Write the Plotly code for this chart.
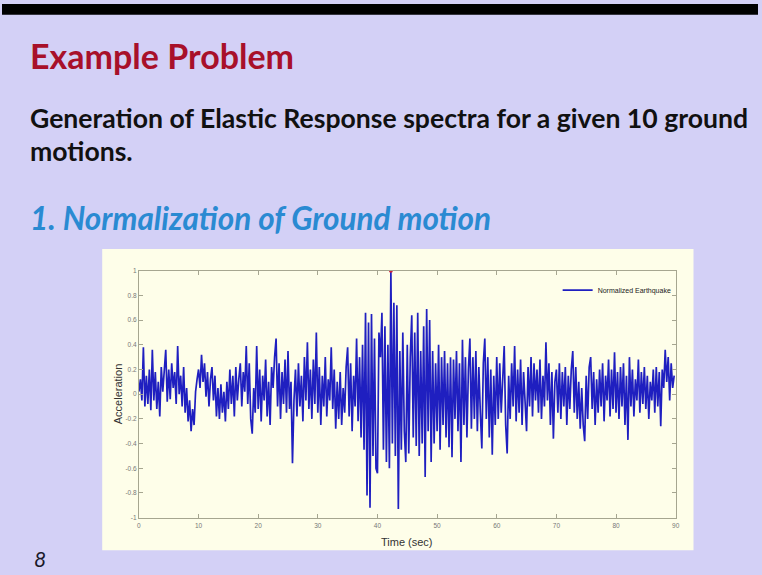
import numpy as np
import plotly.graph_objects as go

# ---------------- data ----------------
DT = 0.25  # sample spacing of the hand-read trace, seconds
accel = [
    0.02, 0.12, -0.05, 0.38, -0.10, 0.15, -0.08, 0.20, -0.13, 0.36,
    -0.05, 0.18, -0.12, 0.10, -0.18, 0.22, 0.02, 0.16, 0.36, -0.06,
    0.20, -0.04, 0.25, 0.05, 0.18, -0.08, 0.39, 0.00, 0.15, -0.10,
    0.22, -0.15, 0.05, -0.22, -0.05, -0.30, -0.12, -0.25, 0.02, 0.12,
    0.20, 0.05, 0.32, 0.10, 0.25, -0.02, 0.18, -0.10, 0.12, 0.22,
    -0.05, 0.15, -0.18, 0.05, -0.20, 0.08, -0.15, 0.02, -0.22, 0.10,
    -0.12, 0.20, -0.08, 0.15, -0.18, 0.22, -0.05, 0.12, 0.25, -0.10,
    0.18, 0.02, 0.39, -0.08, 0.25, -0.20, -0.32, 0.05, -0.15, 0.39,
    -0.12, 0.20, -0.22, 0.15, -0.05, 0.28, -0.18, 0.10, -0.25, 0.22,
    0.05, 0.30, 0.45, -0.10, 0.25, -0.20, 0.18, -0.08, 0.28, -0.15,
    0.35, -0.12, 0.10, -0.56, -0.05, 0.20, -0.18, 0.25, -0.10, 0.15,
    -0.22, 0.30, -0.05, 0.42, -0.12, 0.20, -0.20, 0.28, -0.08, 0.50,
    -0.15, 0.22, -0.25, 0.15, -0.10, 0.30, -0.18, 0.12, -0.05, 0.38,
    -0.12, 0.20, -0.28, 0.10, -0.20, 0.18, -0.25, 0.05, -0.15, 0.22,
    0.38, -0.18, 0.25, -0.30, 0.15, -0.10, 0.45, -0.22, 0.30, -0.35,
    0.40, -0.45, 0.66, -0.82, 0.58, -0.92, 0.65, -0.50, 0.45, -0.60,
    -0.64, 0.50, 0.30, 0.66, -0.45, 0.55, -0.55, 0.40, -0.60, 1.00,
    -0.40, 0.74, -0.50, 0.72, -0.93, 0.35, -0.45, 0.50, -0.30, -0.55,
    0.40, -0.48, 0.30, 0.64, -0.35, 0.50, -0.42, 0.66, -0.50, 0.35,
    -0.40, 0.55, -0.67, 0.69, -0.30, 0.60, -0.55, 0.35, -0.40, 0.25,
    -0.30, 0.40, -0.45, 0.30, -0.25, 0.35, -0.35, 0.25, -0.43, 0.30,
    -0.51, 0.28, -0.20, 0.35, -0.30, 0.25, -0.55, 0.44, -0.25, 0.30,
    -0.35, 0.20, 0.45, -0.28, 0.30, -0.20, 0.35, -0.30, 0.22, -0.15,
    -0.44, 0.25, 0.45, -0.20, 0.30, -0.35, 0.20, -0.49, 0.15, -0.25,
    0.30, -0.20, 0.25, -0.15, 0.20, 0.39, -0.25, -0.48, 0.15, -0.20,
    0.25, -0.10, 0.39, -0.22, 0.20, -0.15, 0.28, -0.25, 0.18, -0.12,
    -0.30, 0.22, -0.10, 0.30, -0.18, 0.25, -0.05, 0.20, -0.15, 0.28,
    -0.20, 0.15, -0.10, 0.42, -0.05, 0.25, -0.25, 0.18, -0.36, 0.10,
    0.20, -0.15, 0.25, -0.20, 0.18, -0.10, 0.22, -0.25, 0.15, -0.12,
    0.20, 0.35, -0.15, 0.22, -0.20, 0.10, -0.28, 0.05, -0.25, -0.38,
    0.15, -0.20, 0.22, 0.30, -0.12, 0.18, -0.25, 0.12, -0.15, 0.20,
    -0.10, 0.25, -0.22, 0.15, -0.05, 0.28, -0.18, 0.20, -0.12, 0.34,
    -0.15, 0.18, -0.20, 0.22, -0.10, 0.25, -0.25, 0.15, -0.37, 0.30,
    -0.10, 0.20, -0.18, 0.12, -0.05, 0.28, -0.15, 0.18, -0.08, 0.22,
    -0.12, 0.15, -0.20, 0.10, -0.05, 0.20, -0.15, 0.22, -0.10, 0.18,
    -0.26, 0.20, 0.05, 0.36, 0.10, 0.30, -0.05, 0.25, 0.05, 0.15,
]
x_ticks = [0, 10, 20, 30, 40, 50, 60, 70, 80, 90]
y_ticks = [-1, -0.8, -0.6, -0.4, -0.2, 0, 0.2, 0.4, 0.6, 0.8, 1]
y_tick_labels = ["-1", "-0.8", "-0.6", "-0.4", "-0.2", "0", "0.2", "0.4", "0.6", "0.8", "1"]
series_name = "Normalized Earthquake"

time = np.arange(len(accel)) * DT
peak_i = int(np.argmax(accel))

# ---------------- layout helpers ----------------
W, H = 762, 575
def PX(x):
    return x / W
def PY(y):
    return 1 - y / H

BG = "#d3d0f6"
CREAM = "#fefee9"
AXC = "#a6a690"

fig = go.Figure()
fig.add_trace(go.Scatter(
    x=time, y=accel, mode="lines", name=series_name,
    line=dict(color="#1f1fc0", width=1.7),
))
fig.add_trace(go.Scatter(
    x=[time[peak_i]], y=[accel[peak_i]], mode="markers", showlegend=False,
    marker=dict(color="#d0203a", size=4, symbol="circle"),
))

shapes = [
    dict(type="rect", xref="paper", yref="paper", x0=0, x1=1, y0=PY(11), y1=1,
         fillcolor="#000000", line=dict(width=0), layer="below"),
    dict(type="rect", xref="paper", yref="paper", x0=PX(101), x1=PX(697), y0=PY(553), y1=PY(248),
         fillcolor=CREAM, line=dict(width=0), layer="below"),
]

font_main = "Lato, 'Open Sans', sans-serif"
annotations = [
    dict(text="<b>Example Problem</b>", x=PX(26), y=PY(52), xanchor="left", yanchor="middle",
         font=dict(family=font_main, size=34, color="#a8102a")),
    dict(text="<b>Generation of Elastic Response spectra for a given 10 ground</b>", x=PX(26), y=PY(115),
         xanchor="left", yanchor="middle", font=dict(family=font_main, size=26.6, color="#111111")),
    dict(text="<b>motions.</b>", x=PX(26), y=PY(149), xanchor="left", yanchor="middle",
         font=dict(family=font_main, size=26.6, color="#111111")),
    dict(text="<b><i>1. Normalization of Ground motion</i></b>", x=PX(26), y=PY(217), xanchor="left",
         yanchor="middle", font=dict(family=font_main, size=31.5, color="#2a8ad2")),
    dict(text="<i>8</i>", x=PX(38), y=PY(561), xanchor="center", yanchor="middle",
         font=dict(family=font_main, size=21, color="#1a1a2a")),
    dict(text="Acceleration", x=PX(117), y=PY(395), xanchor="center", yanchor="middle", textangle=-90,
         font=dict(family="Liberation Sans, Arial, sans-serif", size=11, color="#333333")),
    dict(text="Time (sec)", x=PX(408), y=PY(545), xanchor="center", yanchor="middle",
         font=dict(family="Liberation Sans, Arial, sans-serif", size=11, color="#333333")),
]
for a in annotations:
    a.update(xref="paper", yref="paper", showarrow=False)

tickfont = dict(family="Liberation Sans, Arial, sans-serif", size=6.5, color="#777777")
fig.update_layout(
    width=W, height=H, margin=dict(l=0, r=0, t=0, b=0),
    paper_bgcolor=BG, plot_bgcolor=CREAM,
    shapes=shapes, annotations=annotations,
    showlegend=True,
    legend=dict(x=PX(680), y=PY(275), xanchor="right", yanchor="top",
                bgcolor="rgba(0,0,0,0)", borderwidth=0,
                font=dict(family="Liberation Sans, Arial, sans-serif", size=7, color="#222222"),
                itemwidth=30, tracegroupgap=0),
    xaxis=dict(domain=[PX(138), PX(679)], range=[0, 90], tickvals=x_ticks,
               ticks="inside", ticklen=4, tickcolor=AXC, showline=True, linecolor=AXC, linewidth=1,
               mirror="ticks", showgrid=False, zeroline=False, tickfont=tickfont, ticklabelstandoff=2),
    yaxis=dict(domain=[PY(520), PY(270)], range=[-1, 1], tickvals=y_ticks, ticktext=y_tick_labels,
               ticks="inside", ticklen=4, tickcolor=AXC, showline=True, linecolor=AXC, linewidth=1,
               mirror="ticks", showgrid=False, zeroline=False, tickfont=tickfont),
)

fig.write_html("out.html", config={"displayModeBar": False},
               post_script="document.body.style.margin='0';document.body.style.overflow='hidden';")
